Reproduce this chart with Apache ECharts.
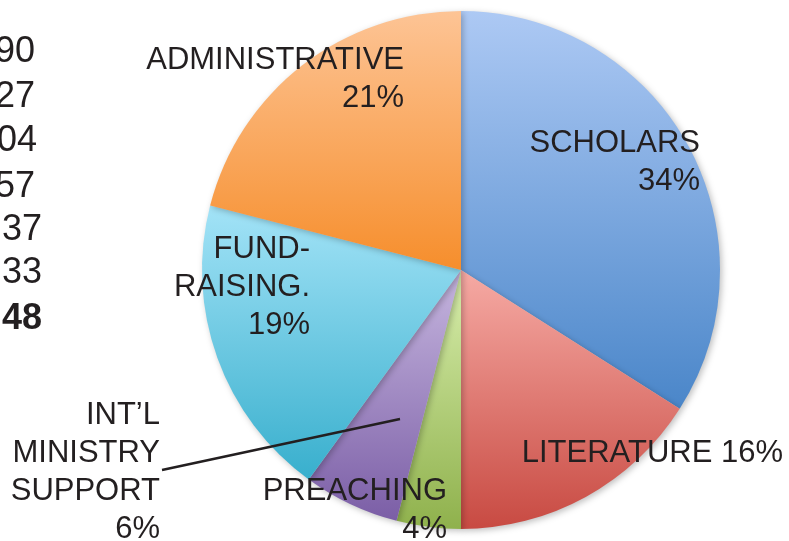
<!DOCTYPE html>
<html>
<head>
<meta charset="utf-8">
<script src="https://cdn.jsdelivr.net/npm/echarts@6/dist/echarts.min.js"></script>
<style>
  html, body { margin: 0; padding: 0; background: #fff; }
  #chart { width: 789px; height: 541px; }
</style>
</head>
<body>
<div id="chart"></div>
<script>
// slice names (as printed, with their line breaks) and shares in %
const categories = ["SCHOLARS", "LITERATURE", "PREACHING", "INT\u2019L\nMINISTRY\nSUPPORT", "FUND-\nRAISING.", "ADMINISTRATIVE"];
const shares = [34, 16, 4, 6, 19, 21];
// what sits between the name and the percent in each label
const separators = ["\n", " ", "\n", "\n", "\n", "\n"];
// cut-off column of the table on the left
const tableTail = ["90", "27", "04", "57", "37", "33", "48"];

// top / bottom gradient colours of each slice
const topColors = ["#adc9f4", "#f6aaa4", "#d8eead", "#c6b6df", "#a3e3f7", "#fdc495"];
const bottomColors = ["#4a86c9", "#c84a42", "#8fb14c", "#7b5ea6", "#38afcd", "#f68e2c"];

// label anchor (right edge, block centre) for each slice
const labelPos = [[700, 162], [783, 453], [447, 510], [160, 472], [310, 287], [404, 79]];
const tailRight = [35, 35, 37, 35, 42, 42, 42];
const tailY = [52, 97, 141, 187, 230, 273, 319];

const chart = echarts.init(document.getElementById("chart"));
const font = "'Liberation Sans', Arial, sans-serif";
const ink = "#231f20";

const tailTexts = tableTail.map((t, i) => ({
  type: "text",
  x: tailRight[i],
  y: tailY[i],
  style: {
    text: t,
    align: "right",
    verticalAlign: "middle",
    fill: ink,
    font: (i === tableTail.length - 1 ? "bold " : "") + "36px " + font,
  },
}));

// leader line for the INT'L slice label, drawn above the slices
const leader = {
  type: "polyline",
  z: 100,
  shape: { points: [[162, 470], [400, 419]] },
  style: { stroke: ink, lineWidth: 2.5, fill: null },
};

const option = {
  animation: false,
  series: [
    {
      type: "pie",
      center: [461, 270],
      radius: 259,
      startAngle: 90,
      clockwise: true,
      avoidLabelOverlap: false,
      data: categories.map((name, i) => ({
        name: name,
        value: shares[i],
        itemStyle: {
          color: new echarts.graphic.LinearGradient(0, 0, 0, 1, [
            { offset: 0, color: topColors[i] },
            { offset: 1, color: bottomColors[i] },
          ]),
        },
      })),
      itemStyle: {
        shadowBlur: 6,
        shadowColor: "rgba(0,0,0,0.25)",
        shadowOffsetX: 2,
        shadowOffsetY: 2,
      },
      label: {
        show: true,
        position: "inside",
        color: ink,
        fontFamily: font,
        fontSize: 31,
        lineHeight: 38,
        formatter: (p) => p.name + separators[p.dataIndex] + shares[p.dataIndex] + "%",
      },
      labelLine: { show: false },
      labelLayout: (params) => ({
        x: labelPos[params.dataIndex][0],
        y: labelPos[params.dataIndex][1],
        align: "right",
        verticalAlign: "middle",
      }),
      emphasis: { disabled: true },
    },
  ],
  graphic: tailTexts.concat([leader]),
};

chart.setOption(option);
</script>
</body>
</html>
